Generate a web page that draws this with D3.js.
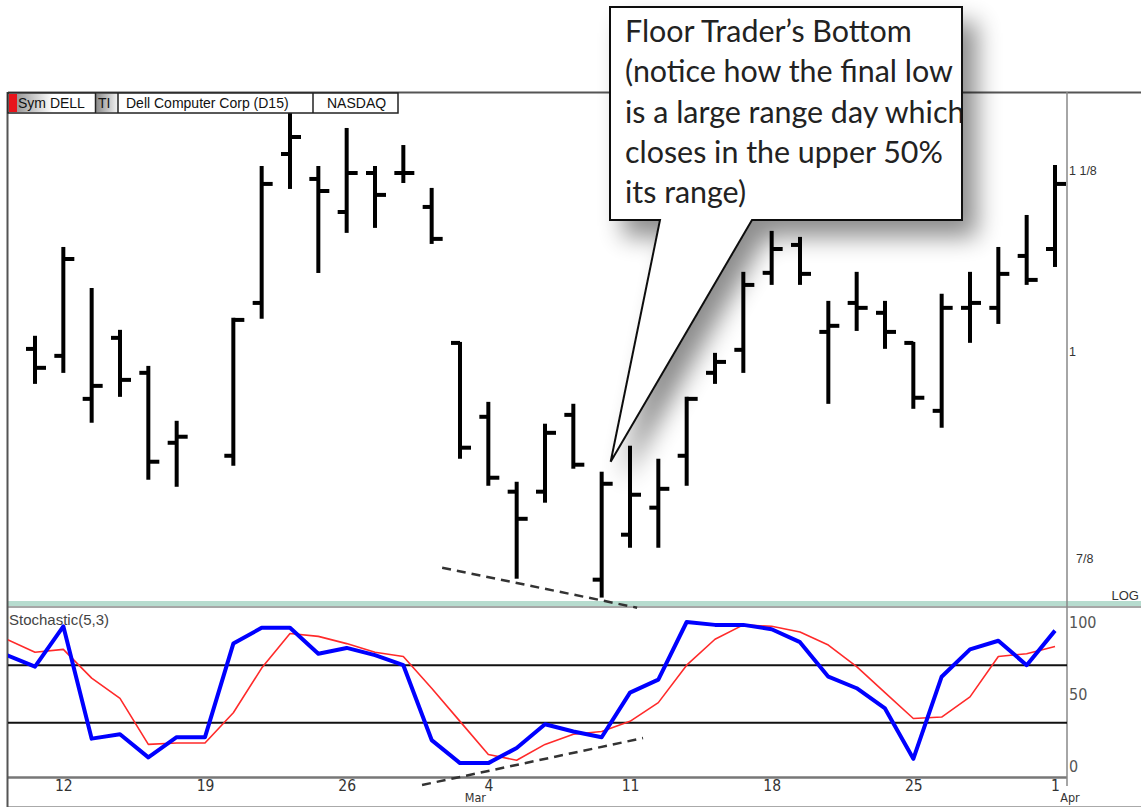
<!DOCTYPE html>
<html><head><meta charset="utf-8">
<script src="https://cdn.jsdelivr.net/npm/d3@7"></script>
<style>body{margin:0;background:#fff}svg{display:block}</style>
</head><body>
<svg id="c" width="1141" height="807"></svg>
<script>
// ---- data ----
const days = ["1996-02-08","1996-02-09","1996-02-12","1996-02-13","1996-02-14","1996-02-15","1996-02-16",
  "1996-02-19","1996-02-20","1996-02-21","1996-02-22","1996-02-23","1996-02-26","1996-02-27","1996-02-28",
  "1996-02-29","1996-03-01","1996-03-04","1996-03-05","1996-03-06","1996-03-07","1996-03-08","1996-03-11",
  "1996-03-12","1996-03-13","1996-03-14","1996-03-15","1996-03-18","1996-03-19","1996-03-20","1996-03-21",
  "1996-03-22","1996-03-25","1996-03-26","1996-03-27","1996-03-28","1996-03-29","1996-04-01"];
const barDays = ["1996-02-09","1996-02-12","1996-02-13","1996-02-14","1996-02-15","1996-02-16",
  "1996-02-20","1996-02-21","1996-02-22","1996-02-23","1996-02-26","1996-02-27","1996-02-28",
  "1996-02-29","1996-03-01","1996-03-04","1996-03-05","1996-03-06","1996-03-07","1996-03-08","1996-03-11",
  "1996-03-12","1996-03-13","1996-03-14","1996-03-15","1996-03-18","1996-03-19","1996-03-20","1996-03-21",
  "1996-03-22","1996-03-25","1996-03-26","1996-03-27","1996-03-28","1996-03-29","1996-04-01"];
const opens  = [1.0019,0.9974,0.9700,1.0091,0.9865,0.9428,0.9349,1.0322,1.1367,1.1185,1.0948,1.1228,1.1228,1.0984,1.0058,0.9588,0.9134,0.9134,0.9600,0.8628,0.8883,0.9040,0.9349,0.9865,1.0013,1.0525,1.0717,1.0130,1.0322,1.0256,1.0058,0.9625,1.0289,1.0289,1.0641,1.0689];
const highs  = [1.0098,1.0696,1.0416,1.0137,0.9903,0.9557,1.0216,1.1272,1.1673,1.1272,1.1553,1.1272,1.1426,1.1113,1.0058,0.9675,0.9187,0.9539,0.9663,0.9247,0.9404,0.9325,0.9707,0.9987,1.0525,1.0808,1.0766,1.0329,1.0525,1.0329,1.0058,1.0376,1.0525,1.0696,1.0920,1.1279];
const lows   = [0.9801,0.9871,0.9557,0.9719,0.9211,0.9169,0.9295,1.0223,1.1120,1.0531,1.0808,1.0843,1.1163,1.0731,0.9337,0.9175,0.8639,0.9075,0.9277,0.8534,0.8814,0.8814,0.9175,0.9801,0.9871,1.0450,1.0450,0.9675,1.0143,1.0026,0.9644,0.9526,1.0065,1.0189,1.0450,1.0572];
const closes = [0.9897,1.0620,0.9782,0.9820,0.9313,0.9465,1.0209,1.1149,1.1493,1.1098,1.1228,1.1070,1.1228,1.0759,0.9398,0.9217,0.8975,0.9489,0.9295,0.9181,0.9116,0.9151,0.9700,0.9935,1.0443,1.0689,1.0518,1.0170,1.0289,1.0130,0.9707,1.0289,1.0322,1.0518,1.0477,1.1149];
const stochK = [77,69,97,19,22,6,20,20,85,96,96,78,82,77,70,18,2,2,12.5,29,24,20,51,60,100,98,98,95,86,62,54,40,5,62,81,87,70,94];
const stochD = [88,79,81,61,47,15,16,16,37,68,92,90,85,79,76,54,31,8,4,15,22,24,31,44,70,88,98,97,93,84,69,51,33,34,48,76,78,83];
const priceTicks = [0.875, 1, 1.125];
const priceTickLabels = ["\u20077/8", "1", "1 1/8"];
const stochTicks = [0, 50, 100];
const stochLevels = [30, 70];
const dateTicks = ["1996-02-12","1996-02-19","1996-02-26","1996-03-04","1996-03-11","1996-03-18","1996-03-25","1996-04-01"];
const dateTickLabels = ["12","19","26","4","11","18","25","1"];
const monthTicks = ["1996-03-04","1996-04-01"];
const monthLabels = ["Mar","Apr"];
const priceTrend = [[15.37, 0.8695],[22.25, 0.8473]];   // [day index, price]
const stochTrend = [[14.66, -13.2],[22.46, 19.4]];      // [day index, stoch]
const calloutLines = ["Floor Trader\u2019s Bottom","(notice how the final low","is a large range day which","closes in the upper 50%","its range)"];
const headerCells = ["Sym DELL","TI","Dell Computer Corp (D15)","NASDAQ"];

// ---- layout ----
const W = 1141, H = 807;
const L = 8, R = 1067;
const svg = d3.select("#c");
const x = d3.scaleLinear().domain([1, 37]).range([35, 1055]);
const xd = d => x(days.indexOf(d));
const y = d3.scaleLog().domain([0.875, 1.125]).range([558, 170]);
const ys = d3.scaleLinear().domain([0, 100]).range([766, 622]);

const defs = svg.append("defs");
const f = defs.append("filter").attr("id","sh").attr("x","-30%").attr("y","-30%").attr("width","170%").attr("height","170%");
f.append("feGaussianBlur").attr("in","SourceAlpha").attr("stdDeviation",12).attr("result","b");
f.append("feOffset").attr("in","b").attr("dx",14).attr("dy",16).attr("result","o");
f.append("feComponentTransfer").attr("in","o").attr("result","t").append("feFuncA").attr("type","linear").attr("slope",0.45);
const fm = f.append("feMerge"); fm.append("feMergeNode").attr("in","t"); fm.append("feMergeNode").attr("in","SourceGraphic");
defs.append("clipPath").attr("id","stClip").append("rect").attr("x",L).attr("y",608).attr("width",R-L).attr("height",168);
defs.append("clipPath").attr("id","boxClip").append("rect").attr("x",610).attr("y",7).attr("width",352).attr("height",213);
const g1 = defs.append("linearGradient").attr("id","gSym");
g1.append("stop").attr("offset","0%").attr("stop-color","#9a9a9a");
g1.append("stop").attr("offset","100%").attr("stop-color","#ffffff");
const g2 = defs.append("linearGradient").attr("id","gTI");
g2.append("stop").attr("offset","0%").attr("stop-color","#8a8a8a");
g2.append("stop").attr("offset","100%").attr("stop-color","#f4f4f4");

// frame lines
svg.append("rect").attr("x",L).attr("y",601).attr("width",W-L).attr("height",5).attr("fill","#b7dccf");
svg.append("line").attr("x1",L).attr("x2",W).attr("y1",607).attr("y2",607).attr("stroke","#8a8a8a").attr("stroke-width",1.5);
svg.append("line").attr("x1",L).attr("x2",W).attr("y1",92.5).attr("y2",92.5).attr("stroke","#555").attr("stroke-width",2);
svg.append("line").attr("x1",L).attr("x2",R).attr("y1",777.5).attr("y2",777.5).attr("stroke","#777").attr("stroke-width",2.5);
svg.append("line").attr("x1",L).attr("x2",W).attr("y1",806.5).attr("y2",806.5).attr("stroke","#aaa").attr("stroke-width",1);
svg.append("line").attr("x1",R).attr("x2",R).attr("y1",92).attr("y2",786).attr("stroke","#888").attr("stroke-width",1.5);
svg.append("line").attr("x1",L-0.5).attr("x2",L-0.5).attr("y1",92).attr("y2",H).attr("stroke","#555").attr("stroke-width",2);

// stochastic level lines
svg.selectAll(".lvl").data(stochLevels).join("line").attr("class","lvl")
  .attr("x1",L).attr("x2",R).attr("y1",d=>ys(d)).attr("y2",d=>ys(d)).attr("stroke","#111").attr("stroke-width",2);

// OHLC bars
const bars = barDays.map((d,i)=>({d, o:opens[i], h:highs[i], l:lows[i], c:closes[i]}));
const bg = svg.append("g").attr("stroke","#000").attr("stroke-width",4).attr("stroke-linecap","butt");
bg.selectAll(".hl").data(bars).join("line").attr("x1",b=>xd(b.d)).attr("x2",b=>xd(b.d))
  .attr("y1",b=>y(b.h)-1).attr("y2",b=>y(b.l)+1);
bg.selectAll(".op").data(bars).join("line").attr("x1",b=>xd(b.d)-9).attr("x2",b=>xd(b.d))
  .attr("y1",b=>y(b.o)).attr("y2",b=>y(b.o));
bg.selectAll(".cl").data(bars).join("line").attr("x1",b=>xd(b.d)).attr("x2",b=>xd(b.d)+11)
  .attr("y1",b=>y(b.c)).attr("y2",b=>y(b.c));

// stochastic lines
const sg = svg.append("g").attr("clip-path","url(#stClip)");
const lineK = d3.line().x((v,i)=>x(i)).y(v=>ys(v));
sg.append("path").attr("d",lineK(stochD)).attr("fill","none").attr("stroke","#ff2a2a").attr("stroke-width",1.6).attr("stroke-linejoin","round");
sg.append("path").attr("d",lineK(stochK)).attr("fill","none").attr("stroke","#0000ff").attr("stroke-width",4).attr("stroke-linejoin","round");

// trend annotations
svg.append("line").attr("x1",x(priceTrend[0][0])).attr("y1",y(priceTrend[0][1]))
  .attr("x2",x(priceTrend[1][0])).attr("y2",y(priceTrend[1][1]))
  .attr("stroke","#333").attr("stroke-width",2.5).attr("stroke-dasharray","9,6");
svg.append("line").attr("x1",x(stochTrend[0][0])).attr("y1",ys(stochTrend[0][1]))
  .attr("x2",x(stochTrend[1][0])).attr("y2",ys(stochTrend[1][1]))
  .attr("stroke","#333").attr("stroke-width",2.5).attr("stroke-dasharray","9,6");

// axes
const axP = d3.axisRight(y).tickValues(priceTicks).tickFormat((d,i)=>priceTickLabels[i]).tickSize(0).tickPadding(2);
const gp = svg.append("g").attr("transform",`translate(${R},0)`).call(axP);
gp.select(".domain").remove();
gp.selectAll("text").attr("font-family","Liberation Sans, Arial, sans-serif").attr("font-size",12.5).attr("fill","#333");

const axS = d3.axisRight(ys).tickValues(stochTicks).tickSize(0).tickPadding(2);
const gs = svg.append("g").attr("transform",`translate(${R},0)`).call(axS);
gs.select(".domain").remove();
gs.selectAll("text").attr("font-family","Liberation Sans Narrow, DejaVu Sans Condensed, Arial, sans-serif").attr("font-size",16).attr("fill","#555");

const axX = d3.axisBottom(x).tickValues(dateTicks.map(d=>days.indexOf(d))).tickFormat((d,i)=>dateTickLabels[i]).tickSize(0).tickPadding(2);
const gx = svg.append("g").attr("transform","translate(0,778)").call(axX);
gx.select(".domain").remove();
gx.selectAll("text").attr("font-family","Liberation Sans Narrow, DejaVu Sans Condensed, Arial, sans-serif").attr("font-size",15.5).attr("fill","#333");
svg.selectAll(".mon").data(monthTicks).join("text").attr("class","mon")
  .attr("x",(d,i)=>xd(d)+(i===0?-13:15)).attr("y",802).attr("text-anchor","middle")
  .attr("font-family","Liberation Sans Narrow, DejaVu Sans Condensed, Arial, sans-serif").attr("font-size",12.5).attr("fill","#333")
  .text((d,i)=>monthLabels[i]);

svg.append("text").attr("x",1139).attr("y",600).attr("text-anchor","end").attr("font-family","Liberation Sans, Arial, sans-serif").attr("font-size",13).attr("fill","#333").text("LOG");
svg.append("text").attr("x",9).attr("y",625).attr("font-family","Liberation Sans, Arial, sans-serif").attr("font-size",15).attr("fill","#444").text("Stochastic(5,3)");

// header
const hg = svg.append("g");
hg.append("rect").attr("x",L).attr("y",93).attr("width",390).attr("height",20).attr("fill","#fff").attr("stroke","#222").attr("stroke-width",1.5);
hg.append("rect").attr("x",L+1).attr("y",94).attr("width",9).attr("height",18).attr("fill","#e8141b");
hg.append("rect").attr("x",17).attr("y",94).attr("width",36).attr("height",18).attr("fill","url(#gSym)");
hg.append("rect").attr("x",96).attr("y",94).attr("width",22).attr("height",18).attr("fill","url(#gTI)");
[95.5,118,313].forEach(v=>hg.append("line").attr("x1",v).attr("x2",v).attr("y1",93).attr("y2",113).attr("stroke","#222").attr("stroke-width",1.5));
const hx = [18, 98, 126, 327];
hg.selectAll(".ht").data(headerCells).join("text").attr("class","ht").attr("x",(d,i)=>hx[i]).attr("y",108)
  .attr("font-family","Liberation Sans, Arial, sans-serif").attr("font-size",14).attr("fill","#111").text(d=>d);

// callout
const last = bars.find(b=>b.d==="1996-03-08");
const tipX = xd(last.d)+9, tipY = y(last.h)-11;
const cg = svg.append("g");
cg.append("path").attr("d",`M610,7H962V220H752L${tipX},${tipY}L660,220H610Z`)
  .attr("fill","#fff").attr("stroke","#111").attr("stroke-width",2).attr("filter","url(#sh)");
const tg = cg.append("g").attr("clip-path","url(#boxClip)");
const tt = tg.selectAll("text").data(calloutLines).join("text").attr("x",625).attr("y",(d,i)=>42+i*40.3)
  .attr("font-family","Lato, 'Open Sans', sans-serif").attr("font-size",28).attr("fill","#222").text(d=>d);
const w2 = tt.nodes()[1].getComputedTextLength();
tt.attr("font-size", 28*328/w2);
cg.append("path").attr("d",`M962,7V220`).attr("stroke","#111").attr("stroke-width",2);
</script>
</body></html>
